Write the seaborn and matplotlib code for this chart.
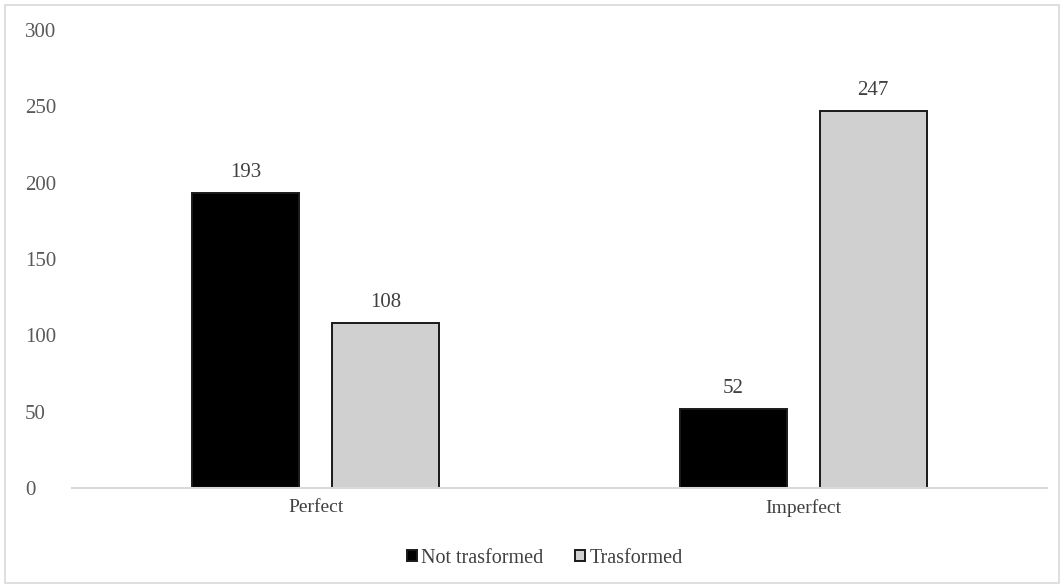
import matplotlib
matplotlib.use("Agg")
import matplotlib.pyplot as plt
import seaborn as sns
import pandas as pd
from matplotlib.patches import Rectangle

categories = ["Perfect", "Imperfect"]
series_names = ["Not trasformed", "Trasformed"]
not_transformed = [193, 52]
transformed = [108, 247]
y_ticks = [0, 50, 100, 150, 200, 250, 300]

df = pd.DataFrame({
    "category": categories * 2,
    "series": [series_names[0]] * 2 + [series_names[1]] * 2,
    "value": not_transformed + transformed,
})

sns.set_theme(style="white")
plt.rcParams["font.family"] = ["Liberation Serif", "DejaVu Serif"]
text_color = "#595959"

fig = plt.figure(figsize=(10.64, 5.88), dpi=100)
ax = fig.add_axes([0.0677, 0.170, 0.9163, 0.779])

palette = {series_names[0]: "#000000", series_names[1]: "#d0d0d0"}
sns.barplot(data=df, x="category", y="value", hue="series", order=categories,
            hue_order=series_names, palette=palette, width=0.574, gap=0.233,
            edgecolor="#1a1a1a", linewidth=1.4, saturation=1, ax=ax, legend=True)

for cont in ax.containers:
    ax.bar_label(cont, padding=8, fontsize=15, color="#404040")

ax.set_ylim(0, 300)
ax.set_xlim(-0.5, 1.5)
ax.set_yticks(y_ticks)
ax.set_yticklabels([str(t) for t in y_ticks], fontsize=15, color=text_color)
ax.tick_params(axis="x", labelsize=14, labelcolor="#404040", length=0, pad=8)
ax.tick_params(axis="y", length=0, pad=34)
for lbl in ax.get_yticklabels():
    lbl.set_horizontalalignment("left")
ax.set_xlabel("")
ax.set_ylabel("")
for side in ["top", "right", "left"]:
    ax.spines[side].set_visible(False)
ax.spines["bottom"].set_color("#d9d9d9")
ax.spines["bottom"].set_linewidth(1.5)

handles, labels = ax.get_legend_handles_labels()
ax.legend_.remove()
fig.legend(handles, labels, loc="center", bbox_to_anchor=(0.512, 0.051), ncol=2,
           frameon=False, fontsize=14.5, handlelength=0.5, handleheight=0.5,
           handletextpad=0.2, columnspacing=1.6, labelcolor="#404040")

fig.patches.append(Rectangle((0.005, 0.008), 0.99, 0.984, transform=fig.transFigure,
                             fill=False, edgecolor="#d9d9d9", linewidth=1.2))

fig.savefig("out.png", dpi=100)
